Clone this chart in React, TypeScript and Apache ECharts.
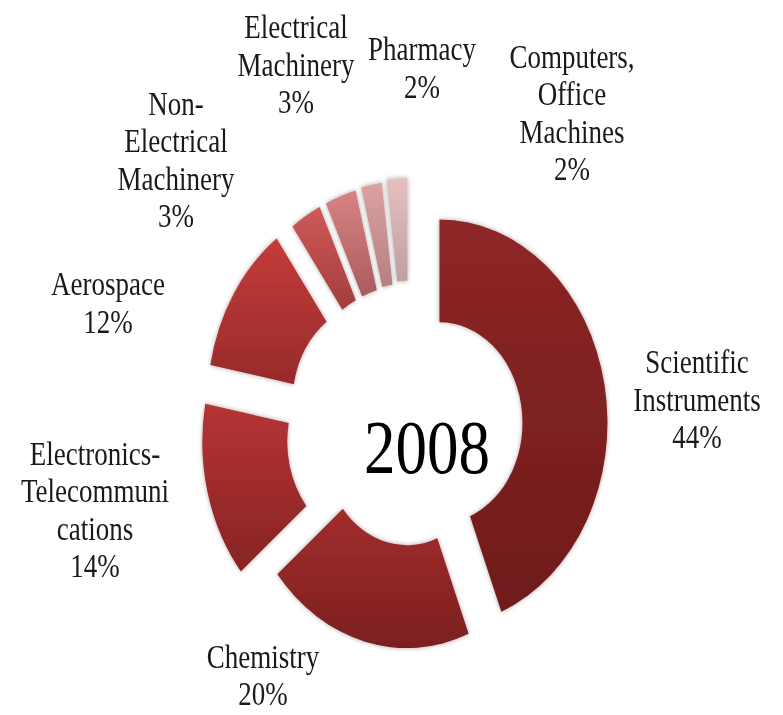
import React, { useEffect, useRef } from "react";
import * as echarts from "echarts";

// ---- data ----
const categories = [
  "Scientific Instruments",
  "Chemistry",
  "Electronics-Telecommunications",
  "Aerospace",
  "Non-Electrical Machinery",
  "Electrical Machinery",
  "Pharmacy",
  "Computers, Office Machines",
];
const labelLines = [
  ["Scientific", "Instruments"],
  ["Chemistry"],
  ["Electronics-", "Telecommuni", "cations"],
  ["Aerospace"],
  ["Non-", "Electrical", "Machinery"],
  ["Electrical", "Machinery"],
  ["Pharmacy"],
  ["Computers,", "Office", "Machines"],
];
const shares = [44, 20, 14, 12, 3, 3, 2, 2];
const centerTitle = "2008";

// ---- styling / layout (not data) ----
const STRETCH = 1.21;
const W = 783;
const H = 715 / STRETCH;
const CENTER = [410, 355];
const sliceOffsets = [30, 13, 41, 41, 37, 37, 38, 40];
const gradientStops = [
  ["#8e2626", "#6f1b1b"],
  ["#a32d2d", "#7b1f1f"],
  ["#b53434", "#872424"],
  ["#c53c3a", "#962b2a"],
  ["#cf5a58", "#a23d3c"],
  ["#d88383", "#aa5c5c"],
  ["#dca2a2", "#b58080"],
  ["#e6c0c0", "#bfa0a0"],
];
const labelPos = [
  [697, 330],
  [263, 558],
  [95, 421],
  [108, 250],
  [176, 132],
  [296, 53],
  [422, 56],
  [572, 93],
];

export default function App() {
  const ref = useRef<HTMLDivElement>(null);
  useEffect(() => {
    if (!ref.current) return;
    const chart = echarts.init(ref.current, undefined, { renderer: "svg" });

    const series = categories.map((_, k) => ({
      type: "pie",
      name: categories[k],
      center: CENTER,
      radius: [83, 168],
      startAngle: 90,
      clockwise: true,
      selectedMode: "multiple",
      selectedOffset: sliceOffsets[k],
      avoidLabelOverlap: false,
      silent: true,
      label: { show: false },
      labelLine: { show: false },
      select: { itemStyle: {} },
      data: categories.map((name, i) => ({
        name,
        value: shares[i],
        selected: i === k,
        itemStyle:
          i === k
            ? {
                color: new echarts.graphic.LinearGradient(0, 0, 0, 1, [
                  { offset: 0, color: gradientStops[i][0] },
                  { offset: 1, color: gradientStops[i][1] },
                ]),
                shadowBlur: 4,
                shadowColor: "rgba(0,0,0,0.35)",
              }
            : { color: "rgba(0,0,0,0)", opacity: 0 },
      })),
    }));

    const labelTexts = categories.map((_, i) => ({
      type: "text",
      x: labelPos[i][0],
      y: labelPos[i][1],
      style: {
        text: [...labelLines[i], `${shares[i]}%`].join("\n"),
        fontSize: 27,
        lineHeight: 31,
        fontFamily: "Liberation Serif",
        fill: "#1a1a1a",
        align: "center",
        verticalAlign: "middle",
        textAlign: "center",
        textVerticalAlign: "middle",
      },
    }));

    chart.setOption({
      animation: false,
      backgroundColor: "#ffffff",
      graphic: [
        {
          type: "text",
          x: 427,
          y: 370,
          style: {
            text: centerTitle,
            fontSize: 63,
            fontFamily: "Liberation Serif",
            fill: "#000000",
            align: "center",
            verticalAlign: "middle",
            textAlign: "center",
            textVerticalAlign: "middle",
          },
        },
        ...labelTexts,
      ],
      series,
    });
    return () => chart.dispose();
  }, []);
  return (
    <div
      style={{
        position: "absolute",
        left: 0,
        top: 0,
        width: W,
        height: H,
        transform: `scaleY(${STRETCH})`,
        transformOrigin: "0 0",
        background: "#fff",
      }}
    >
      <div ref={ref} style={{ width: W, height: H }} />
    </div>
  );
}
